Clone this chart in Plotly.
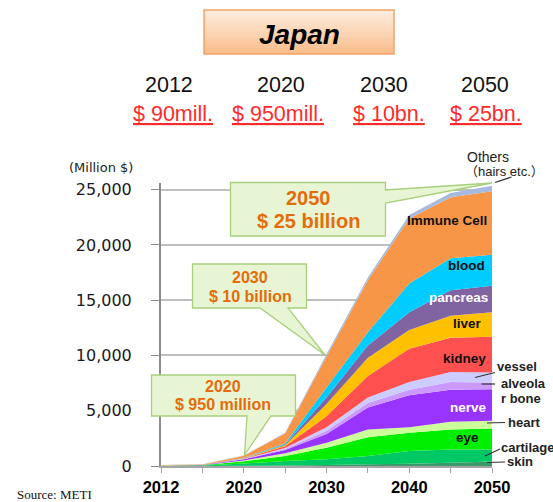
import plotly.graph_objects as go

# ---------------- data (Million $) ----------------
years = ["2012", "2015", "2020", "2025", "2030", "2035", "2040", "2045", "2050"]
year_labels = ["2012", "", "2020", "", "2030", "", "2040", "", "2050"]

skin      = [5, 5, 20, 50, 100, 150, 200, 300, 400]
cartilage = [15, 30, 200, 400, 500, 750, 1160, 1200, 1100]
eye       = [10, 25, 200, 450, 1050, 1700, 1640, 1800, 1900]
heart     = [5, 10, 80, 250, 450, 700, 500, 700, 700]
nerve     = [5, 10, 100, 300, 800, 2000, 2900, 2900, 2850]
alveolar  = [1, 2, 20, 80, 300, 400, 500, 700, 600]
vessel    = [2, 3, 25, 100, 300, 500, 700, 900, 900]
kidney    = [3, 5, 35, 150, 1000, 1950, 3000, 3100, 3250]
liver     = [2, 3, 25, 100, 1100, 1650, 1700, 2000, 2200]
pancreas  = [1, 2, 15, 60, 600, 1100, 1600, 2300, 2400]
blood     = [3, 5, 30, 100, 900, 1200, 2600, 2900, 2800]
immune    = [30, 40, 180, 900, 2800, 4700, 5900, 5500, 5750]
others    = [8, 10, 20, 60, 200, 250, 300, 400, 510]

series_names = ["skin", "cartilage", "eye", "heart", "nerve", "alveolar bone",
                "vessel", "kidney", "liver", "pancreas", "blood", "Immune Cell",
                "Others"]
series_values = [skin, cartilage, eye, heart, nerve, alveolar, vessel, kidney,
                 liver, pancreas, blood, immune, others]
series_colors = ["#3A9A6A", "#00C864", "#00EE00", "#CCFF99", "#9933FF", "#CC99FF",
                 "#CCCCFF", "#FF5050", "#FFC000", "#8064A2", "#00CCFF", "#F79646",
                 "#A6B9DE"]

top_years = ["2012", "2020", "2030", "2050"]
top_values = ["$ 90mill.", "$ 950mill.", "$ 10bn.", "$ 25bn."]

y_ticks = [0, 5000, 10000, 15000, 20000, 25000]

# ---------------- layout geometry ----------------
W, H = 553, 502
L, R, T, B = 161, 61, 183, 36
PW, PH = W - L - R, H - T - B


def X(px):
    return (px - L) / PW


def Y(py):
    return (H - B - py) / PH


def note(px, py, text, font, xanchor="center"):
    return dict(x=X(px), y=Y(py), xref="paper", yref="paper", text=text,
                showarrow=False, xanchor=xanchor, yanchor="middle", font=font)


fig = go.Figure()
for name, vals, col in zip(series_names, series_values, series_colors):
    fig.add_trace(go.Scatter(x=years, y=vals, name=name, stackgroup="one",
                             mode="none", fillcolor=col, line=dict(width=0),
                             hoverinfo="x+y+name"))

shapes = []
annotations = []

# Japan title box with stepped gradient
x0, x1, y0, y1 = 204, 394, 10, 54
n = 14
c_top = (253, 236, 222)
c_bot = (250, 190, 140)
for i in range(n):
    t = i / (n - 1)
    c = tuple(int(round(c_top[k] + (c_bot[k] - c_top[k]) * t)) for k in range(3))
    ya = y0 + (y1 - y0) * i / n
    yb = min(y1, y0 + (y1 - y0) * (i + 1) / n + 0.6)
    shapes.append(dict(type="rect", xref="paper", yref="paper",
                       x0=X(x0), x1=X(x1), y0=Y(ya), y1=Y(yb),
                       fillcolor="rgb(%d,%d,%d)" % c, line=dict(width=0),
                       layer="above"))
shapes.append(dict(type="rect", xref="paper", yref="paper",
                   x0=X(x0), x1=X(x1), y0=Y(y0), y1=Y(y1),
                   line=dict(color="#F5A366", width=1.5), layer="above"))
annotations.append(note(299, 34, "<b><i>Japan</i></b>",
                        dict(family="Liberation Sans", size=28, color="black")))

# Top year / value rows
year_x = [169, 281, 384, 485]
val_x = [172.5, 277.5, 389, 485.5]
for yx, vx, yr, vl in zip(year_x, val_x, top_years, top_values):
    annotations.append(note(yx, 85, yr,
                            dict(family="Liberation Sans", size=21.5, color="#111111")))
    annotations.append(note(vx, 114, vl,
                            dict(family="Liberation Sans", size=21.5, color="#FF2A2A",
                                 lineposition="under")))

# Callouts
call_fill = "#E8F5D4"
call_line = "#A8CF7C"


def poly(points):
    return "M " + " L ".join("%f,%f" % (X(px), Y(py)) for px, py in points) + " Z"


callouts = [
    [(230.5, 182.5), (385.5, 182.5), (385.5, 190), (492, 183), (385.5, 203),
     (385.5, 236), (230.5, 236)],
    [(192.5, 264), (306.5, 264), (306.5, 308), (288, 308), (325, 355),
     (260, 308), (192.5, 308)],
    [(151.5, 375), (295.5, 375), (295.5, 416), (271, 416), (244.5, 455),
     (247, 416), (151.5, 416)],
]
for pts in callouts:
    shapes.append(dict(type="path", xref="paper", yref="paper", path=poly(pts),
                       fillcolor=call_fill, line=dict(color=call_line, width=1.3),
                       layer="above"))

orange = "#E46C0A"
call_texts = [
    (308, 198, "<b>2050</b>", 20), (308, 221, "<b>$ 25 billion</b>", 20),
    (250, 277.5, "<b>2030</b>", 16), (250, 296, "<b>$ 10 billion</b>", 16),
    (223, 386.5, "<b>2020</b>", 16), (223, 404.5, "<b>$ 950 million</b>", 16),
]
for px, py, txt, sz in call_texts:
    annotations.append(note(px, py, txt,
                            dict(family="Liberation Sans", size=sz, color=orange)))

# Labels inside the areas
inside = [
    (446.5, 220, "Immune Cell", "#111111"),
    (466.5, 265.5, "blood", "#111111"),
    (458, 297, "pancreas", "white"),
    (467, 323, "liver", "#111111"),
    (464.5, 358.5, "kidney", "#111111"),
    (468, 407, "nerve", "white"),
    (467, 437.5, "eye", "#111111"),
]
for px, py, txt, col in inside:
    annotations.append(note(px, py, "<b>%s</b>" % txt,
                            dict(family="Liberation Sans", size=13.5, color=col)))

# Labels outside with leader lines
outside = [
    (495, 366, "vessel"),
    (499, 383, "alveola"),
    (499, 398.5, "r bone"),
    (506, 422, "heart"),
    (499, 447, "cartilage"),
    (505, 461.5, "skin"),
]
for px, py, txt in outside:
    annotations.append(note(px, py, "<b>%s</b>" % txt,
                            dict(family="Liberation Sans", size=13, color="#222222"),
                            xanchor="left"))

leaders = [
    ((475, 377.5), (495, 372.5)),
    ((481.5, 384), (495, 384)),
    ((487, 423), (505, 422.5)),
    ((485, 456), (500, 449)),
    ((487, 462.5), (505, 462)),
    ((495, 182.5), (511.5, 177)),
]
for (ax, ay), (bx, by) in leaders:
    shapes.append(dict(type="line", xref="paper", yref="paper",
                       x0=X(ax), y0=Y(ay), x1=X(bx), y1=Y(by),
                       line=dict(color="#333333", width=1.2), layer="above"))

annotations.append(note(465, 157, "Others",
                        dict(family="Liberation Sans", size=14, color="#222222"),
                        xanchor="left"))
annotations.append(note(463, 172, "（hairs etc.）",
                        dict(family="Liberation Sans, Noto Sans CJK JP", size=13,
                             color="#222222"),
                        xanchor="left"))

# Axis unit and source
annotations.append(note(135, 167, "(Million $)",
                        dict(family="DejaVu Sans", size=13, color="#222222"),
                        xanchor="right"))
annotations.append(note(15, 494, "Source: METI",
                        dict(family="Liberation Serif", size=13, color="#111111"),
                        xanchor="left"))

fig.update_layout(
    width=W, height=H,
    margin=dict(l=L, r=R, t=T, b=B, autoexpand=False),
    paper_bgcolor="white", plot_bgcolor="white",
    showlegend=False,
    shapes=shapes, annotations=annotations,
    xaxis=dict(type="category", categoryorder="array", categoryarray=years,
               range=[0, 8], tickvals=years, ticktext=year_labels,
               ticks="outside", ticklen=5, tickcolor="#A6A6A6",
               showline=True, linecolor="#A6A6A6", linewidth=1.5,
               showgrid=False, zeroline=False, automargin=False,
               tickfont=dict(family="Liberation Sans", size=16.5, color="black",
                             weight="bold")),
    yaxis=dict(range=[0, 25600], tickvals=y_ticks, tickformat=",",
               ticks="outside", ticklen=8, tickcolor="#8C8C8C",
               showline=True, linecolor="#8C8C8C", linewidth=2,
               showgrid=True, gridcolor="#BFBFBF", gridwidth=1.5,
               zeroline=False, ticklabelstandoff=16, automargin=False,
               tickfont=dict(family="DejaVu Sans", size=16, color="#1A1A1A")),
)

fig.write_html("out.html")
